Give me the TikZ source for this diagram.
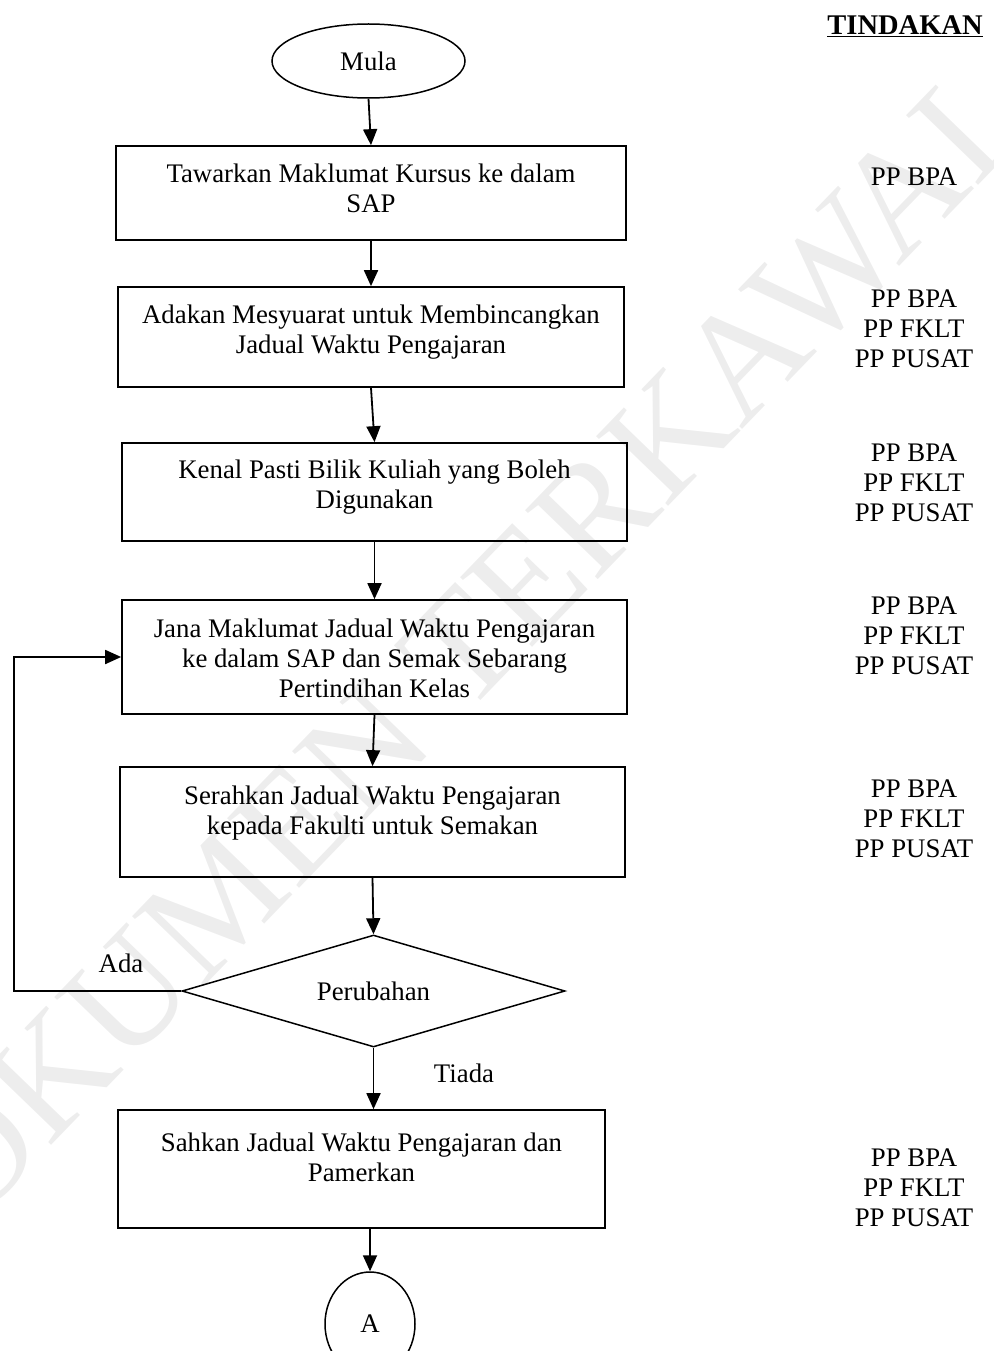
\documentclass[tikz,border=0pt]{standalone}
\usepackage{fontspec}
\setmainfont{Liberation Serif}
\usetikzlibrary{shapes.geometric,arrows.meta}
\begin{document}
\begin{tikzpicture}[x=1pt,y=-1pt,
  every node/.style={font=\fontsize{26.8}{30}\selectfont, inner sep=0pt},
  stepbox/.style={draw, line width=1.7pt, rectangle},
  txt/.style={align=center},
  who/.style={align=center},
  arr/.style={line width=1.8pt, -{Triangle[length=16pt,width=14pt]}},
  ln/.style={line width=1.8pt}]
\useasboundingbox (0,0) rectangle (993,1351);
% watermark
\node[rotate=46, text=black!7, font=\fontsize{153}{153}\selectfont] (wm) at (432,680) {DOKUMEN TERKAWAL};

% header
\node[font=\fontsize{28.5}{30}\selectfont] (hdr) at (905,26) {\textbf{\underline{TINDAKAN}}};

% start
\node[draw, ellipse, line width=1.5pt, minimum width=193pt, minimum height=74pt] (mula) at (368.5,61) {Mula};

% boxes
\node[stepbox, minimum width=510pt, minimum height=94pt] (b1) at (371,193) {};
\node[txt] (t1) at (371,188) {Tawarkan Maklumat Kursus ke dalam\\SAP};
\node[stepbox, minimum width=506pt, minimum height=100pt] (b2) at (371,337) {};
\node[txt] (t2) at (371,332) {Adakan Mesyuarat untuk Membincangkan\\Jadual Waktu Pengajaran};
\node[stepbox, minimum width=505pt, minimum height=98pt] (b3) at (374.5,492) {};
\node[txt] (t3) at (374.5,487) {Kenal Pasti Bilik Kuliah yang Boleh\\Digunakan};
\node[stepbox, minimum width=505pt, minimum height=114pt] (b4) at (374.5,657) {};
\node[txt] (t4) at (374.5,658) {Jana Maklumat Jadual Waktu Pengajaran\\ke dalam SAP dan Semak Sebarang\\Pertindihan Kelas};
\node[stepbox, minimum width=505pt, minimum height=110pt] (b5) at (372.5,822) {};
\node[txt] (t5) at (372.5,813) {Serahkan Jadual Waktu Pengajaran\\kepada Fakulti untuk Semakan};

% decision
\node[draw, diamond, aspect=3.4, line width=1.5pt, minimum width=383pt, minimum height=112pt] (dia) at (373.5,991) {Perubahan};

\node[stepbox, minimum width=487pt, minimum height=118pt] (b6) at (361.5,1169) {};
\node[txt] (t6) at (361.5,1157) {Sahkan Jadual Waktu Pengajaran dan\\Pamerkan};

% connector
\node[draw, ellipse, line width=1.5pt, minimum width=90pt, minimum height=104pt] (conA) at (370,1324) {A};

% labels
\node (ada) at (121,963) {Ada};
\node (tiada) at (464,1073) {Tiada};

% responsibilities
\node[who] (w1) at (914,177) {PP BPA};
\node[who] (w2) at (914,329) {PP BPA\\PP FKLT\\PP PUSAT};
\node[who] (w3) at (914,483) {PP BPA\\PP FKLT\\PP PUSAT};
\node[who] (w4) at (914,636) {PP BPA\\PP FKLT\\PP PUSAT};
\node[who] (w5) at (914,819) {PP BPA\\PP FKLT\\PP PUSAT};
\node[who] (w6) at (914,1188) {PP BPA\\PP FKLT\\PP PUSAT};

% arrows
\draw[arr] (mula.south) -- (b1.north);
\draw[arr] (b1.south) -- (b2.north);
\draw[arr] (b2.south) -- (b3.north);
\draw[arr] (b3.south) -- (b4.north);
\draw[arr] (b4.south) -- (b5.north);
\draw[arr] (b5.south) -- (dia.north);
\draw[arr] (dia.south) -- (dia.south |- b6.north);
\draw[arr] (conA.north |- b6.south) -- (conA.north);
\coordinate (fb) at (14,991);
\draw[arr] (dia.west) -- (fb) |- (b4.west);
\end{tikzpicture}
\end{document}
